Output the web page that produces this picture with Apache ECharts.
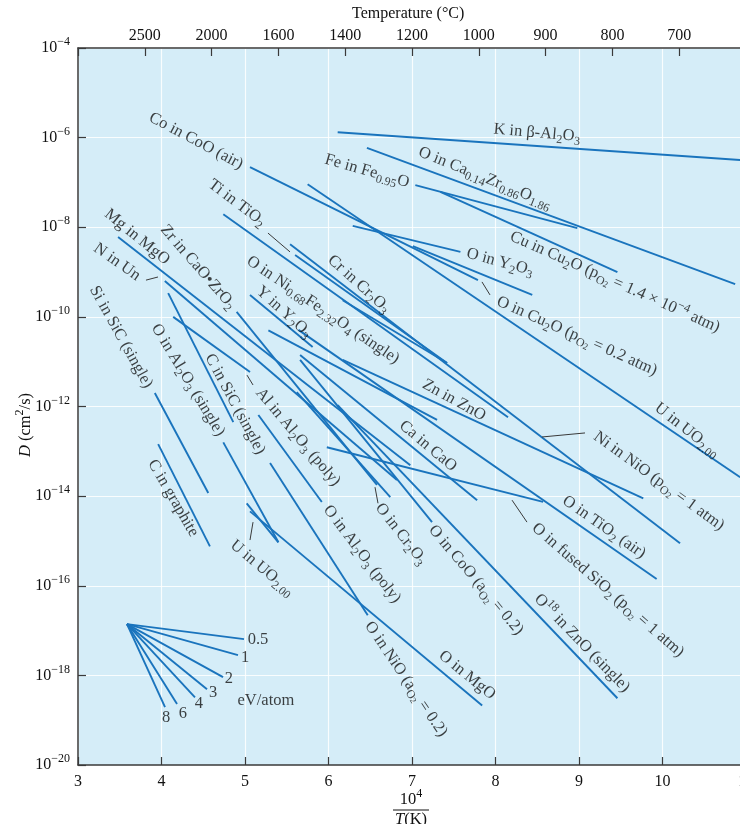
<!DOCTYPE html>
<html><head><meta charset="utf-8">
<script src="https://cdn.jsdelivr.net/npm/echarts@6/dist/echarts.min.js"></script>
<style>html,body{margin:0;padding:0;background:#fff}#c{width:740px;height:824px}</style>
</head><body><div id="c"></div>
<script>
// ---------- axis data ----------
const xTickValues = [3, 4, 5, 6, 7, 8, 9, 10, 11];          // 10^4 / T(K)
const tempLabels = ['2500', '2000', '1600', '1400', '1200', '1000', '900', '800', '700']; // top axis, °C
const yExponents = [-20, -18, -16, -14, -12, -10, -8, -6, -4]; // log10 D (cm^2/s)

// ---------- diffusion lines: [10^4/T, log10 D] ----------
const kBetaAl2O3   = [[6.11, -5.88], [10.93, -6.50]];
const oCaZrO       = [[6.46, -6.23], [10.87, -9.27]];
const feFeO        = [[7.04, -7.06], [8.98, -8.02]];
const cuCu2O       = [[7.34, -7.21], [9.46, -9.00]];
const oY2O3        = [[6.29, -7.97], [7.58, -8.55]];
const oCu2O        = [[7.01, -8.42], [8.44, -9.51]];
const coCoO        = [[5.06, -6.66], [7.79, -9.18]];
const uUO2high     = [[5.75, -7.04], [10.93, -13.58]];
const tiTiO2       = [[4.74, -7.71], [8.15, -12.24]];
const niNiO        = [[5.54, -8.38], [10.21, -15.05]];
const crCr2O3a     = [[5.60, -8.62], [7.42, -11.03]];
const crCr2O3b     = [[6.17, -9.63], [7.42, -11.03]];
const znZnO        = [[6.17, -10.96], [9.77, -14.05]];
const oSiO2        = [[5.98, -12.91], [8.57, -14.13]];
const oTiO2        = [[5.64, -10.29], [9.93, -15.85]];
const o18ZnO       = [[6.11, -11.97], [9.46, -18.51]];
const caCaO        = [[5.66, -10.85], [7.78, -14.09]];
const mgMgO        = [[3.48, -8.22], [6.98, -13.31]];
const nUN          = [[4.04, -9.20], [6.82, -13.64]];
const oCoO         = [[5.66, -10.96], [7.24, -14.58]];
const oCr2O3       = [[5.62, -11.68], [6.74, -14.02]];
const oNiFe        = [[5.28, -10.30], [7.30, -12.30]];
const yY2O3        = [[5.06, -9.51], [5.81, -10.67]];
const zrCaZrO2     = [[4.90, -9.89], [6.58, -13.75]];
const cSiC         = [[4.08, -9.47], [4.86, -12.35]];
const alAl2O3      = [[4.14, -10.00], [5.06, -11.23]];
const siSiC        = [[3.92, -11.70], [4.56, -13.93]];
const cGraphite    = [[3.96, -12.84], [4.58, -15.12]];
const oAl2O3single = [[4.74, -12.80], [5.40, -15.03]];
const oAl2O3poly   = [[5.16, -12.19], [5.92, -14.13]];
const oNiO         = [[5.30, -13.26], [6.47, -16.66]];
const oMgO         = [[5.06, -14.34], [7.84, -18.67]];
const uUO2low      = [[5.02, -14.16], [5.40, -15.03]];

const diffusionLines = [kBetaAl2O3, oCaZrO, feFeO, cuCu2O, oY2O3, oCu2O, coCoO, uUO2high, tiTiO2,
  niNiO, crCr2O3a, crCr2O3b, znZnO, oSiO2, oTiO2, o18ZnO, caCaO, mgMgO, nUN, oCoO, oCr2O3, oNiFe,
  yY2O3, zrCaZrO2, cSiC, alAl2O3, siSiC, cGraphite, oAl2O3single, oAl2O3poly, oNiO, oMgO, uUO2low];

// ---------- leader lines ----------
const leaders = [
  [[5.275, -8.13], [5.539, -8.55]],
  [[3.814, -9.18], [3.958, -9.11]],
  [[5.024, -11.30], [5.096, -11.52]],
  [[5.096, -14.58], [5.060, -14.98]],
  [[6.557, -13.80], [6.593, -14.16]],
  [[7.838, -9.22], [7.934, -9.51]],
  [[8.557, -12.68], [9.072, -12.59]],
  [[8.198, -14.09], [8.377, -14.58]]
];

// ---------- activation-energy fan (eV/atom) ----------
const fanApex = [3.587, -16.857];
const fanEnergies = ['0.5', '1', '2', '3', '4', '6', '8'];
const fanEnds = [[4.988, -17.19], [4.916, -17.55], [4.737, -18.04], [4.545, -18.31],
                 [4.401, -18.49], [4.186, -18.64], [4.042, -18.71]];

// ---------- annotations: [x, y, angle(deg), text] ----------
const annotations = [
  [8.497, -5.897, 5, 'K in β-Al{s|2}O{s|3}'],
  [7.874, -6.902, 22, 'O in Ca{s|0.14}Zr{s|0.86}O{s|1.86}'],
  [6.461, -6.746, 16, 'Fe in Fe{s|0.95}O'],
  [9.431, -9.223, 24, 'Cu in Cu{s|2}O (p{s|O}{ss|2} = 1.4 × 10{p|−4} atm)'],
  [8.054, -8.777, 15, 'O in Y{s|2}O{s|3}'],
  [8.976, -10.429, 24, 'O in Cu{s|2}O (p{s|O}{ss|2} = 0.2 atm)'],
  [10.293, -12.527, 38, 'U in UO{s|2.00}'],
  [9.958, -13.665, 36, 'Ni in NiO (p{s|O}{ss|2} = 1 atm)'],
  [9.299, -14.692, 35, 'O in TiO{s|2} (air)'],
  [9.347, -16.098, 41, 'O in fused SiO{s|2} (p{s|O}{ss|2} = 1 atm)'],
  [9.036, -17.281, 46, 'O{p|18} in ZnO (single)'],
  [7.659, -17.996, 39, 'O in MgO'],
  [6.928, -18.085, 56, 'O in NiO (a{s|O}{ss|2} = 0.2)'],
  [7.766, -15.875, 50, 'O in CoO (a{s|O}{ss|2} = 0.2)'],
  [6.868, -14.848, 52, 'O in Cr{s|2}O{s|3}'],
  [6.401, -15.295, 53, 'O in Al{s|2}O{s|3} (poly)'],
  [7.192, -12.884, 40, 'Ca in CaO'],
  [7.503, -11.857, 29, 'Zn in ZnO'],
  [6.365, -9.268, 42, 'Cr in Cr{s|2}O{s|3}'],
  [5.934, -9.848, 34, 'O in Ni{s|0.68}Fe{s|2.32}O{s|4} (single)'],
  [5.467, -9.893, 42, 'Y in Y{s|2}O{s|3}'],
  [4.904, -7.460, 37, 'Ti in TiO{s|2}'],
  [4.413, -6.076, 28, 'Co in CoO (air)'],
  [3.707, -8.219, 39, 'Mg in MgO'],
  [4.437, -8.888, 49, 'Zr in CaO•ZrO{s|2}'],
  [3.467, -8.777, 35, 'N in Un'],
  [3.515, -10.451, 61, 'Si in SiC (single)'],
  [4.317, -11.411, 59, 'O in Al{s|2}O{s|3} (single)'],
  [4.880, -11.946, 62, 'C in SiC (single)'],
  [5.635, -12.683, 50, 'Al in Al{s|2}O{s|3} (poly)'],
  [4.138, -14.045, 60, 'C in graphite'],
  [5.204, -15.607, 40, 'U in UO{s|2.00}']
];
const fanLabelPos = [[5.156, -17.214], [5.0, -17.594], [4.808, -18.063], [4.617, -18.397],
                     [4.449, -18.621], [4.257, -18.844], [4.054, -18.933]];
const fanUnitPos = [5.251, -18.554];

// ---------- styles ----------
const SERIF = '"Liberation Serif", "Times New Roman", serif';
const INK = '#111111';
const BLUE = '#1a74bd';
const richStyles = {
  s: { fontSize: 12, lineHeight: 12, verticalAlign: 'bottom', fontFamily: SERIF, color: INK },
  ss: { fontSize: 9, lineHeight: 9, verticalAlign: 'bottom', fontFamily: SERIF, color: INK },
  p: { fontSize: 12, lineHeight: 12, verticalAlign: 'top', fontFamily: SERIF, color: INK },
  i: { fontStyle: 'italic', fontSize: 16.5, fontFamily: SERIF, color: INK }
};

const series = [];
diffusionLines.forEach(d => series.push({
  type: 'line', data: d, showSymbol: false, silent: true,
  lineStyle: { color: BLUE, width: 1.9 }
}));
leaders.forEach(d => series.push({
  type: 'line', data: d, showSymbol: false, silent: true,
  lineStyle: { color: '#3a3a3a', width: 1 }
}));
fanEnds.forEach(e => series.push({
  type: 'line', data: [fanApex, e], showSymbol: false, silent: true,
  lineStyle: { color: BLUE, width: 1.9 }
}));

const labelItems = annotations.map(a => ({
  value: [a[0], a[1]],
  label: { rotate: -a[2], formatter: a[3] }
}));
fanLabelPos.forEach((p, i) => labelItems.push({ value: p, label: { rotate: 0, formatter: fanEnergies[i] } }));
labelItems.push({ value: fanUnitPos, label: { rotate: 0, formatter: 'eV/atom' } });

series.push({
  type: 'scatter', data: labelItems, symbolSize: 1, silent: true,
  itemStyle: { color: 'rgba(0,0,0,0)' }, z: 5,
  label: {
    show: true, position: 'inside', align: 'center', verticalAlign: 'middle',
    fontSize: 16.5, lineHeight: 22, fontFamily: SERIF, color: INK, rich: richStyles
  }
});

const axisLineStyle = { color: '#3a3a3a', width: 1.5 };
const chart = echarts.init(document.getElementById('c'), null, { renderer: 'canvas' });
chart.setOption({
  animation: false,
  textStyle: { fontFamily: SERIF },
  grid: { left: 78, top: 48, width: 668, height: 717, outerBoundsMode: 'none', containLabel: false,
          show: true, backgroundColor: '#d5edf8', borderWidth: 0 },
  xAxis: [{
    type: 'value', position: 'bottom', min: xTickValues[0], max: xTickValues[xTickValues.length - 1], interval: 1,
    axisLine: { show: true, onZero: false, lineStyle: axisLineStyle },
    axisTick: { show: true, inside: true, length: 8, lineStyle: { color: '#3a3a3a', width: 1.2 } },
    axisLabel: { fontSize: 16, fontFamily: SERIF, color: INK, margin: 9 },
    splitLine: { show: true, lineStyle: { color: '#ffffff', width: 1.2, opacity: 0.85 } }
  }, {
    type: 'value', position: 'top', min: 3, max: 11, interval: 0.8,
    axisLine: { show: true, onZero: false, lineStyle: axisLineStyle },
    axisTick: { show: true, inside: true, length: 8, lineStyle: { color: '#3a3a3a', width: 1.2 } },
    axisLabel: {
      fontSize: 16, fontFamily: SERIF, color: INK, margin: 4,
      formatter: v => { const i = Math.round((v - 3) / 0.8) - 1; return (i >= 0 && i < tempLabels.length) ? tempLabels[i] : ''; }
    },
    splitLine: { show: false }
  }],
  yAxis: {
    type: 'value', min: yExponents[0], max: yExponents[yExponents.length - 1], interval: 2,
    axisLine: { show: true, onZero: false, lineStyle: axisLineStyle },
    axisTick: { show: true, inside: true, length: 8, lineStyle: { color: '#3a3a3a', width: 1.2 } },
    axisLabel: {
      fontSize: 16, fontFamily: SERIF, color: INK, margin: 8, lineHeight: 24,
      formatter: v => '10{p|−' + Math.abs(v) + '}', rich: richStyles
    },
    splitLine: { show: true, lineStyle: { color: '#ffffff', width: 1.2, opacity: 0.85 } }
  },
  graphic: [
    { type: 'text', left: 352, top: 6, style: { text: 'Temperature (°C)', fontSize: 16, fontFamily: SERIF, fill: INK } },
    { type: 'text', x: 26, y: 425, rotation: Math.PI / 2,
      style: { text: '{i|D} (cm{p|2}/s)', fontSize: 16.5, lineHeight: 24, fontFamily: SERIF, fill: INK, align: 'center', verticalAlign: 'middle', rich: richStyles } },
    { type: 'text', x: 411, y: 800,
      style: { text: '10{p|4}', fontSize: 16.5, lineHeight: 24, fontFamily: SERIF, fill: INK, align: 'center', verticalAlign: 'middle', rich: richStyles } },
    { type: 'line', shape: { x1: 393, y1: 810, x2: 429, y2: 810 }, style: { stroke: INK, lineWidth: 1 } },
    { type: 'text', x: 411, y: 820,
      style: { text: '{i|T}(K)', fontSize: 16.5, fontFamily: SERIF, fill: INK, align: 'center', verticalAlign: 'middle', rich: richStyles } }
  ],
  series: series
});
</script></body></html>
